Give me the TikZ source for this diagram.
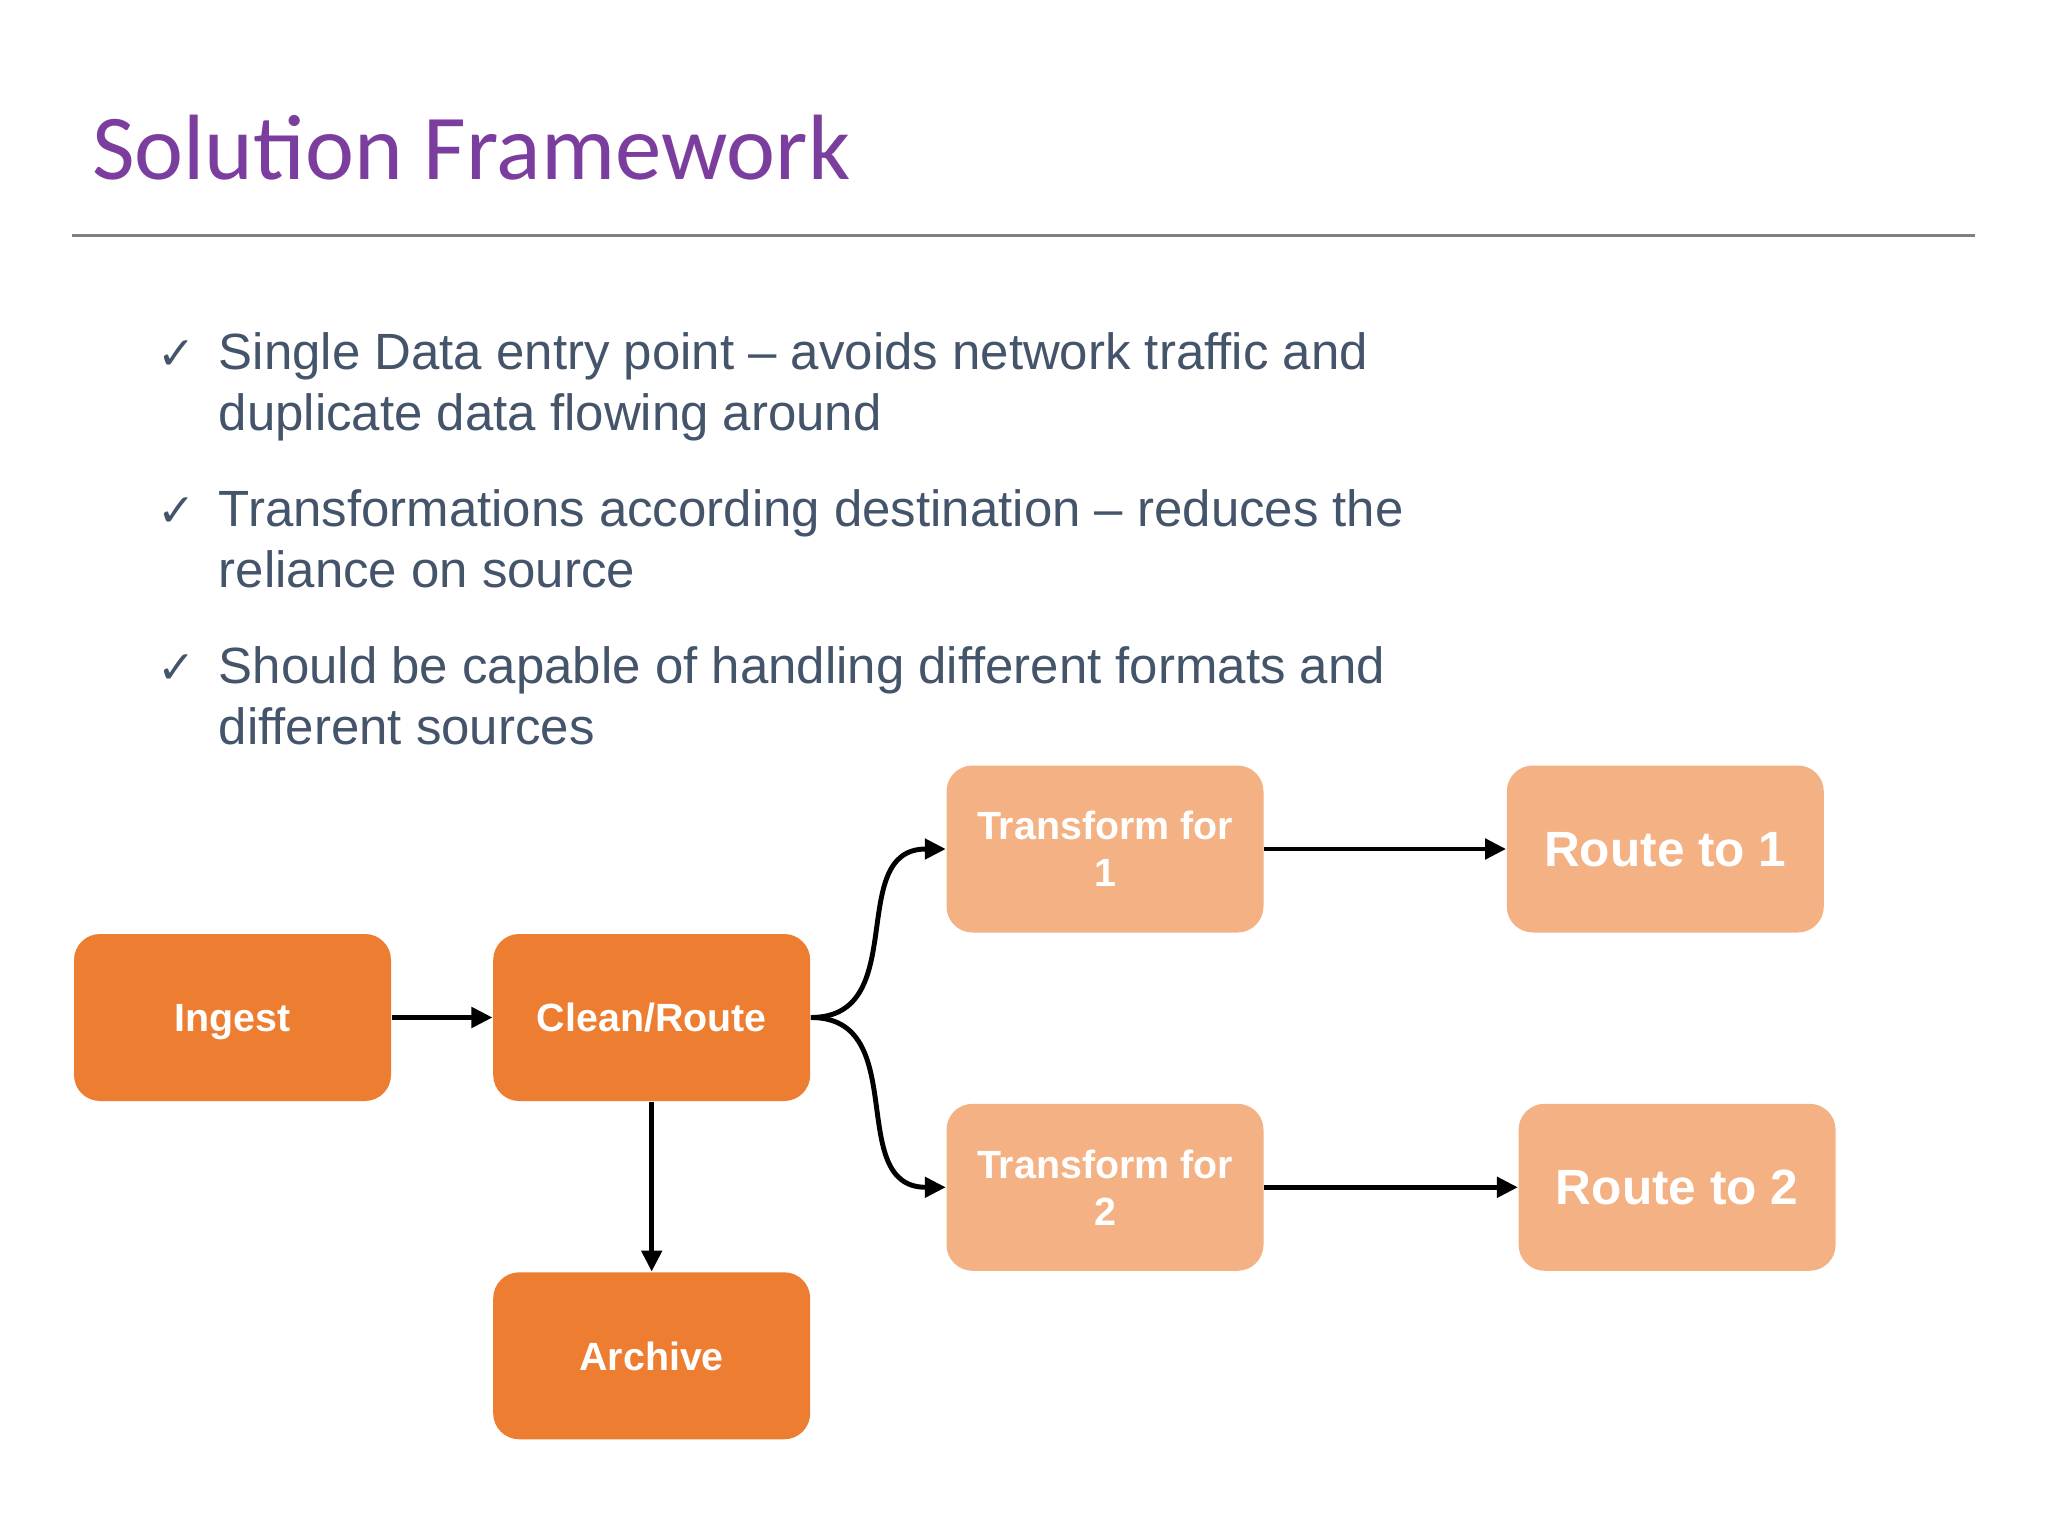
\documentclass[tikz,border=0pt]{standalone}
\usepackage{fontspec}
\setmainfont{Liberation Sans}
\newfontfamily\titlefont{Carlito}
\newfontfamily\checkfont{DejaVu Sans}
\usepackage{tikz}
\usetikzlibrary{positioning}
\usetikzlibrary{arrows.meta}
\usepackage{xcolor}
\definecolor{titlepurple}{RGB}{124,62,158}
\definecolor{bodygray}{RGB}{68,84,106}
\definecolor{rulegray}{RGB}{128,128,128}
\definecolor{darkorange}{RGB}{237,125,49}
\definecolor{lightorange}{RGB}{244,177,131}

\tikzset{
  stage/.style={rectangle, rounded corners=2.6mm, fill=darkorange,
    minimum width=3.17cm, minimum height=1.67cm, inner sep=0pt,
    text=white, align=center, font=\bfseries\fontsize{11.2}{13.4}\selectfont},
  light/.style={stage, fill=lightorange},
  oneline/.style={text depth=0pt},
  bigtext/.style={font=\bfseries\fontsize{14.1}{17}\selectfont},
  bullet/.style={anchor=base west, inner sep=0pt, align=left, text=bodygray,
    font=\fontsize{14.5}{17.45}\selectfont},
  tick/.style={anchor=base west, inner sep=0pt, text=bodygray,
    font=\checkfont\fontsize{13}{13}\selectfont},
}

\begin{document}
\begin{tikzpicture}[node distance=2cm, on grid, >={Triangle[length=2.1mm,width=2mm]}]
   \path[use as bounding box, fill=white] (0,0) rectangle (20.48,-15.36);
   % heading
   \node[anchor=base west, inner sep=0pt, text=titlepurple,
     font=\titlefont\fontsize{26.4}{32}\selectfont] (title) at (0.914,-1.80) {Solution Framework};
   \coordinate (ruleL) at (0.718,-2.351);
   \coordinate (ruleR) at (19.75,-2.351);
   \draw[rulegray, line width=0.9pt] (ruleL) -- (ruleR);
   % bullets (base = last line)
   \node[tick] (c1) at (1.567,-3.696) {✓};
   \node[bullet] (b1) at (2.181,-4.310) {Single Data entry point – avoids network traffic and\\duplicate data flowing around};
   \node[tick] (c2) at (1.567,-5.264) {✓};
   \node[bullet] (b2) at (2.181,-5.878) {Transformations according destination – reduces the\\reliance on source};
   \node[tick] (c3) at (1.567,-6.831) {✓};
   \node[bullet] (b3) at (2.181,-7.445) {Should be capable of handling different formats and\\different sources};
   % flow
   \node[stage, oneline] (ingest) at (2.325,-10.175) {Ingest};
   \node[stage, oneline] (clean) [right=4.192cm of ingest] {Clean/Route};
   \node[stage, oneline] (archive) [below=3.383cm of clean] {Archive};
   \node[light] (tone) [above right=1.685cm and 4.533cm of clean] {Transform for\\1};
   \node[light] (ttwo) [below right=1.698cm and 4.533cm of clean] {Transform for\\2};
   \node[light, bigtext, oneline] (rone) [right=5.603cm of tone] {Route to 1};
   \node[light, bigtext, oneline] (rtwo) [right=5.721cm of ttwo] {Route to 2};
    \path[->, line width=1.4pt]
    (ingest) edge (clean)
    (clean) edge (archive)
    (clean.east) edge [out=0, in=180, looseness=1.2] (tone.west)
    (clean.east) edge [out=0, in=180, looseness=1.2] (ttwo.west)
    (tone) edge (rone)
    (ttwo) edge (rtwo)
    ;
\end{tikzpicture}
\end{document}
